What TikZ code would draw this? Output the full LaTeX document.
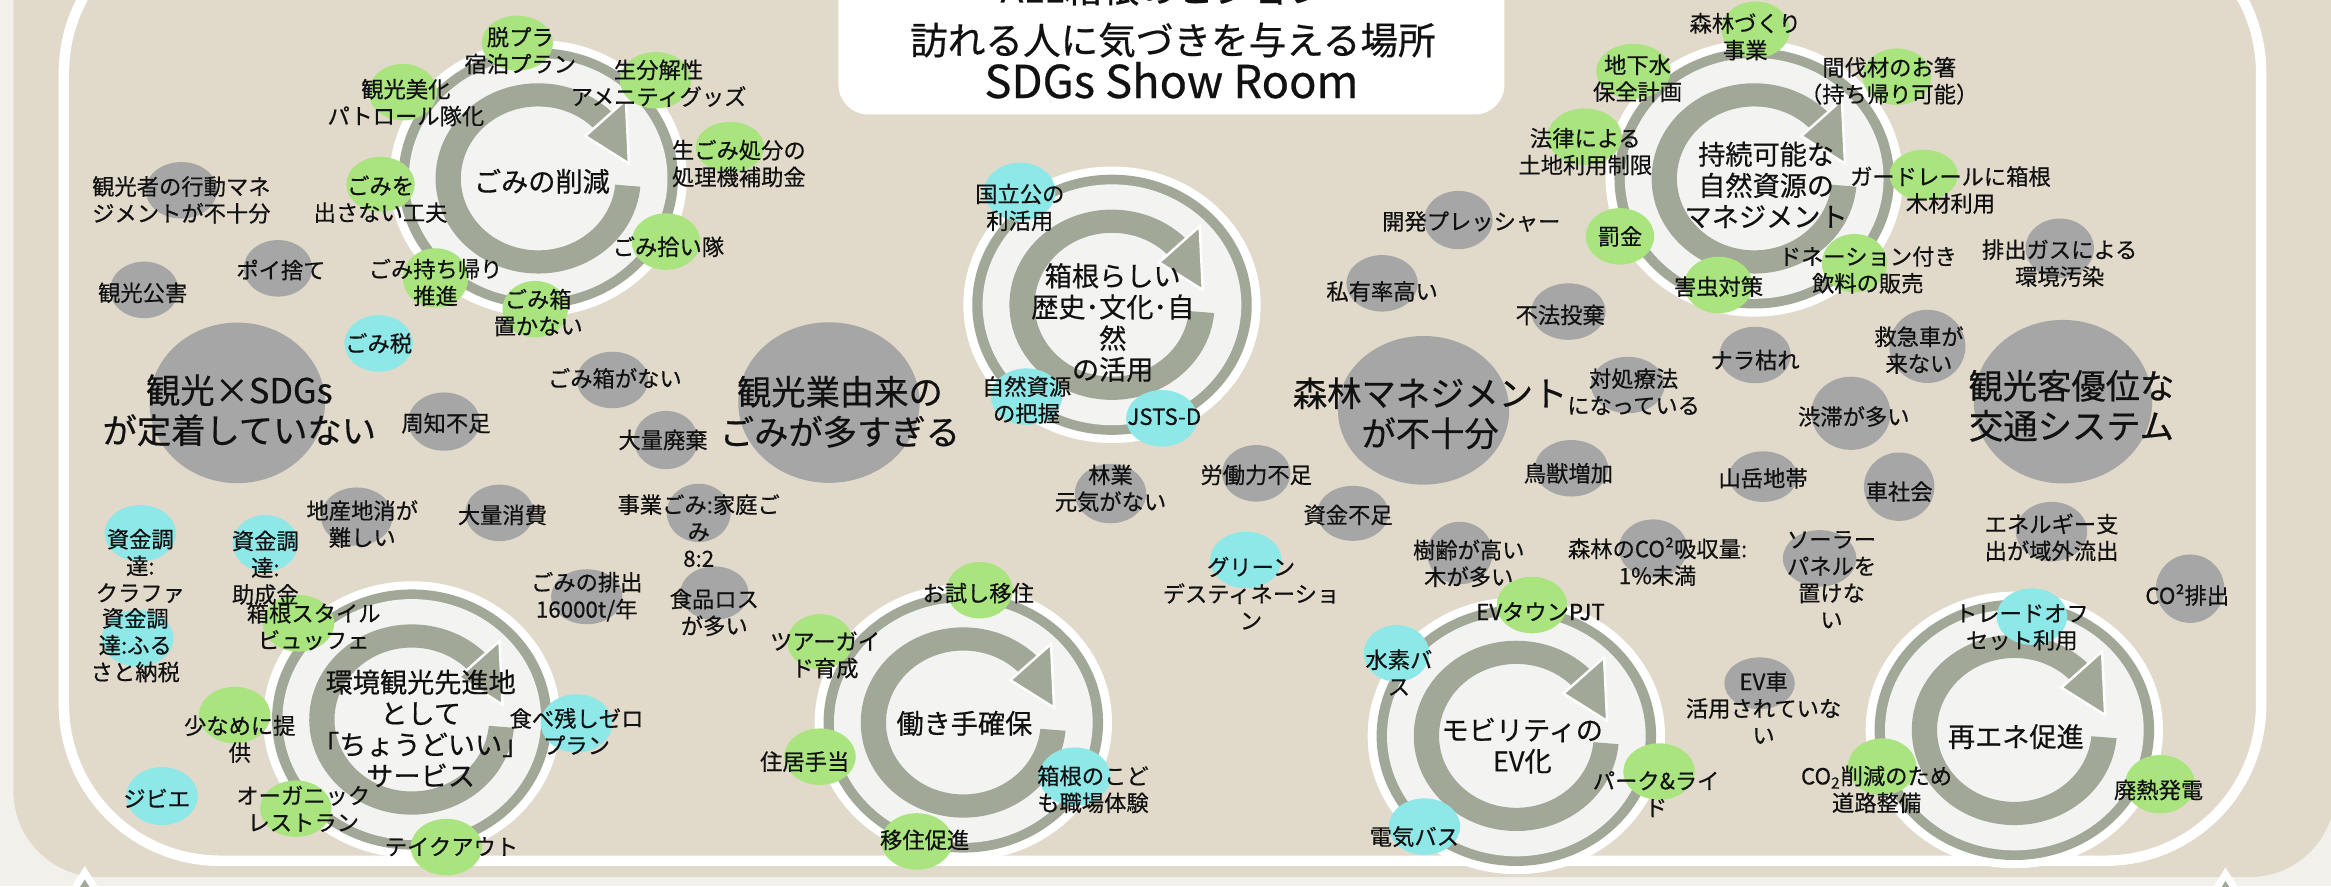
\documentclass[tikz,border=0pt]{standalone}
\usepackage{fontspec}
\setmainfont{Noto Sans CJK JP}[FakeBold=0.5]
\usepackage{tikz}

\definecolor{panel}{HTML}{E1DACA}
\definecolor{outside}{HTML}{F2F0EB}
\definecolor{ring}{HTML}{A2A897}
\definecolor{pale}{HTML}{F3F3F2}
\definecolor{gry}{HTML}{A6A6A6}
\definecolor{grn}{HTML}{A9E47F}
\definecolor{cyn}{HTML}{8EE8E8}
\definecolor{ink}{HTML}{111111}

\tikzset{
	lbl/.style={font=\fontsize{12.8pt}{15.4pt}\selectfont, align=center, inner sep=0pt, text=ink},
	biglbl/.style={lbl, font=\fontsize{19.7pt}{23pt}\selectfont},
	hublbl/.style={lbl, font=\fontsize{15.6pt}{17.9pt}\selectfont},
	titlelbl/.style={lbl, font=\fontsize{21.6pt}{23.9pt}\selectfont}
}

% one coloured spot: colour, centre, x radius, y radius
\newcommand\spot[4]{\fill[#1] (#2) ellipse [x radius=#3, y radius=#4];}

% one cycle with its circular arrow
\newcommand\hcycle[1]{%
	\begin{scope}[shift={(#1)}]
		\fill[white] (0,0) ellipse [x radius=100, y radius=93];
		\fill[ring] (0,0) ellipse [x radius=94, y radius=87.5];
		\fill[pale] (0,0) ellipse [x radius=87, y radius=81];
		\fill[ring] (5:69 and 64) arc [start angle=5, end angle=318, x radius=69, y radius=64]
			-- (318:52 and 48.4) arc [start angle=318, end angle=5, x radius=52, y radius=48.4] -- cycle;
		\filldraw[ring, draw=white, line width=1.4pt] (316:44 and 41) -- (316:82 and 76) -- (350:62 and 57.5) -- cycle;
	\end{scope}}

\begin{document}
\begin{tikzpicture}[x=0.03cm, y=-0.03cm]
	\useasboundingbox (0,0) rectangle (1568,596);
	\clip (0,0) rectangle (1568,596);
	
	% background
	\fill[outside] (0,0) rectangle (1568,596);
	\fill[panel, rounded corners=1.74cm] (9,-120) rectangle (1571,590);
	\draw[white, line width=6pt, rounded corners=3.15cm] (43,-56) rectangle (1521,579);
	\filldraw[fill=ring, draw=white, line width=4pt] (45,606) -- (57,587) -- (69,606) -- cycle;
	\filldraw[fill=ring, draw=white, line width=4pt] (1485,607) -- (1497,588) -- (1509,607) -- cycle;
	
	% title
	\fill[white, rounded corners=0.6cm] (564,-30) rectangle (1012,77);
	\node[titlelbl] (vision) at (783,-8) {ALL箱根のビジョン};
	\node[titlelbl] (title) at (789,27) {訪れる人に気づきを与える場所};
	\node[titlelbl, font=\fontsize{26pt}{28pt}\selectfont] (showroom) at (788,54) {SDGs Show Room};
	
	% cycles
	\hcycle{362,120}
	\hcycle{748,205}
	\hcycle{1180,120}
	\hcycle{277,484}
	\hcycle{648,486}
	\hcycle{1020,495}
	\hcycle{1355,491}
	
	% spots
	\spot{grn}{348,29}{24}{18.5}
	\spot{grn}{441,54}{24}{19}
	\spot{grn}{271,62}{23}{19}
	\spot{grn}{491,99}{23}{17}
	\spot{grn}{256,124}{23}{18.5}
	\spot{gry}{122,128}{24}{19}
	\spot{grn}{448,162.5}{23}{19}
	\spot{gry}{187,180.5}{23}{19}
	\spot{gry}{97,195}{23}{19}
	\spot{grn}{293,187}{22}{20}
	\spot{grn}{360,208}{22}{19}
	\spot{cyn}{254.7,231}{23}{19}
	\spot{gry}{159.6,271}{59}{54}
	\spot{gry}{412,255.6}{24}{19}
	\spot{gry}{298.6,283.6}{24}{19.6}
	\spot{gry}{448,296}{21.5}{19.6}
	\spot{gry}{557.6,270.8}{61}{54}
	\spot{gry}{240,347.5}{24}{19.6}
	\spot{gry}{336,345}{23}{19}
	\spot{gry}{470,345}{21.5}{19.6}
	\spot{cyn}{94.4,358.7}{24}{19}
	\spot{cyn}{92.7,429.4}{24}{19}
	\spot{cyn}{178.5,365.5}{22}{19}
	\spot{grn}{200.8,419.3}{24}{19}
	\spot{gry}{394.7,401.4}{24}{18.5}
	\spot{gry}{480.5,399}{23}{18}
	\spot{grn}{157.9,481}{24}{19}
	\spot{cyn}{387.8,486.6}{24}{19.6}
	\spot{cyn}{109,535.5}{24}{19.5}
	\spot{grn}{199,544}{24}{19}
	\spot{grn}{300.3,569.8}{24}{19}
	
	\spot{cyn}{686,129}{24}{19.6}
	\spot{cyn}{690.5,266.8}{24}{19}
	\spot{cyn}{781.5,281.4}{24}{19}
	\spot{gry}{747,332}{24}{20}
	\spot{gry}{845,318.4}{23}{19}
	\spot{gry}{910,345.3}{24}{18.5}
	\spot{cyn}{838,376.7}{24}{19}
	\spot{grn}{659,397}{22.3}{19}
	\spot{grn}{551.6,431.6}{22}{18.5}
	\spot{grn}{551.6,509}{24}{19}
	\spot{cyn}{723,522.4}{24}{19.6}
	\spot{grn}{616.8,566}{24}{19}
	
	\spot{gry}{981,148}{23}{19.6}
	\spot{gry}{929.7,190.6}{24}{19}
	\spot{grn}{1181,20}{23}{19}
	\spot{grn}{1098.7,48}{25}{18.5}
	\spot{grn}{1276,51.6}{23}{19}
	\spot{grn}{1066,92}{25}{19}
	\spot{grn}{1294,117.7}{23}{17}
	\spot{grn}{1089.7,159}{23}{19}
	\spot{grn}{1247.5,177}{22}{19.6}
	\spot{grn}{1156,191.7}{23}{19}
	\spot{gry}{1385.5,167}{23}{20}
	\spot{gry}{1055,209.6}{25}{19}
	\spot{gry}{1180.6,238.8}{24}{19}
	\spot{gry}{1296.5,233}{25.6}{24.6}
	\spot{gry}{1095,259}{24.7}{19}
	\spot{gry}{1387.7,270.2}{60}{55}
	\spot{gry}{1245,278}{26.6}{24.6}
	\spot{gry}{957.6,276}{57.6}{50}
	\spot{gry}{1057,315}{24.7}{19}
	\spot{gry}{1186,320.6}{23}{17}
	\spot{gry}{1277.5,327.4}{23.7}{23}
	\spot{gry}{982,372}{22}{21}
	\spot{gry}{1112,369}{23}{19.6}
	\spot{gry}{1224,375.6}{24.7}{19}
	\spot{gry}{1380,357.6}{24}{20}
	\spot{gry}{1473.2,396}{23}{23}
	\spot{grn}{1030.5,407}{23.7}{19}
	\spot{cyn}{1366.8,414.8}{23.7}{19}
	\spot{gry}{1183.6,459.6}{23.7}{17.4}
	\spot{grn}{1116,519}{24}{19}
	\spot{grn}{1266,515.7}{23}{19}
	\spot{grn}{1453,527.5}{23.5}{19.6}
	\spot{cyn}{939.4,439.5}{22}{19}
	\spot{cyn}{958.2,556}{24}{19}
	
	% cycle titles
	\node[hublbl] (gomi) at (364.5,122) {ごみの削減};
	\node[hublbl] (rekishi) at (748.5,217) {箱根らしい\\歴史･文化･自\\然\\の活用};
	\node[hublbl] (shigen) at (1188,124.4) {持続可能な\\自然資源の\\マネジメント};
	\node[hublbl] (kankyo) at (283,490) {環境観光先進地\\として\\「ちょうどいい」\\サービス};
	\node[hublbl] (hatarakite) at (648.7,486.6) {働き手確保};
	\node[hublbl] (mobility) at (1024,501.6) {モビリティの\\EV化};
	\node[hublbl] (saiene) at (1356,495.5) {再エネ促進};
	
	% big issues
	\node[biglbl] (sdgs) at (161,276) {観光×SDGs\\が定着していない};
	\node[biglbl] (gomiooi) at (565,277) {観光業由来の\\ごみが多すぎる};
	\node[biglbl] (shinrin) at (962,278) {森林マネジメント\\が不十分};
	\node[biglbl] (kotsu) at (1393.4,273) {観光客優位な\\交通システム};
	
	% labels, left
	\node[lbl] (datsupura) at (350,34) {脱プラ\\宿泊プラン};
	\node[lbl] (seibunkai) at (443,56) {生分解性\\アメニティグッズ};
	\node[lbl] (bika) at (273,69) {観光美化\\パトロール隊化};
	\node[lbl] (namagomi) at (497,110) {生ごみ処分の\\処理機補助金};
	\node[lbl] (dasanai) at (256,134) {ごみを\\出さない工夫};
	\node[lbl] (kodo) at (122,134.5) {観光者の行動マネ\\ジメントが不十分};
	\node[lbl] (hiroi) at (449.6,166) {ごみ拾い隊};
	\node[lbl] (poisute) at (189,181.6) {ポイ捨て};
	\node[lbl] (kogai) at (96,197) {観光公害};
	\node[lbl] (mochikaeri) at (293,190) {ごみ持ち帰り\\推進};
	\node[lbl] (okanai) at (362,210.3) {ごみ箱\\置かない};
	\node[lbl] (gomizei) at (254.7,231) {ごみ税};
	\node[lbl] (gomibako) at (413.6,254.5) {ごみ箱がない};
	\node[lbl] (shuchi) at (300,284.7) {周知不足};
	\node[lbl] (haiki) at (446,296) {大量廃棄};
	\node[lbl] (chisan) at (243.7,352.5) {地産地消が\\難しい};
	\node[lbl] (shohi) at (338,346.4) {大量消費};
	\node[lbl] (jigyo) at (470,357) {事業ごみ:家庭ご\\み\\8:2};
	\node[lbl] (kurafa) at (94.4,380.7) {資金調\\達:\\クラファ};
	\node[lbl] (furusato) at (91,434) {資金調\\達:ふる\\さと納税};
	\node[lbl] (josei) at (178.5,381.9) {資金調\\達:\\助成金};
	\node[lbl] (buffet) at (211,421.5) {箱根スタイル\\ビュッフェ};
	\node[lbl] (haishutsu) at (394.7,401.4) {ごみの排出\\16000t/年};
	\node[lbl] (shokuhin) at (480.5,412) {食品ロス\\が多い};
	\node[lbl] (sukuname) at (161.3,497.2) {少なめに提\\供};
	\node[lbl] (tabenokoshi) at (387.8,492) {食べ残しゼロ\\プラン};
	\node[lbl] (jibie) at (105.4,537) {ジビエ};
	\node[lbl] (organic) at (204,544) {オーガニック\\レストラン};
	\node[lbl] (takeout) at (303.7,569.5) {テイクアウト};
	
	% labels, middle
	\node[lbl] (kokuritsu) at (686,139.5) {国立公の\\利活用};
	\node[lbl] (haaku) at (690.5,269) {自然資源\\の把握};
	\node[lbl] (jsts) at (783.2,280.3) {JSTS-D};
	\node[lbl] (ringyo) at (747,328.5) {林業\\元気がない};
	\node[lbl] (rodo) at (845,319.5) {労働力不足};
	\node[lbl] (shikin) at (906.8,346.4) {資金不足};
	\node[lbl] (green) at (841.5,399) {グリーン\\デスティネーショ\\ン};
	\node[lbl] (otameshi) at (658,399) {お試し移住};
	\node[lbl] (guide) at (555,440.6) {ツアーガイ\\ド育成};
	\node[lbl] (jukyo) at (541.3,512.3) {住居手当};
	\node[lbl] (kodomo) at (735.2,531) {箱根のこど\\も職場体験};
	\node[lbl] (iju) at (622,565) {移住促進};
	
	% labels, right
	\node[lbl] (kaihatsu) at (989.7,149) {開発プレッシャー};
	\node[lbl] (shiyu) at (929.7,196) {私有率高い};
	\node[lbl] (morizukuri) at (1174,24.7) {森林づくり\\事業};
	\node[lbl] (chikasui) at (1101.5,52.7) {地下水\\保全計画};
	\node[lbl] (ohashi) at (1270.8,54.4) {間伐材のお箸\\（持ち帰り可能）};
	\node[lbl] (horitsu) at (1066.4,102) {法律による\\土地利用制限};
	\node[lbl] (guardrail) at (1312,127.8) {ガードレールに箱根\\木材利用};
	\node[lbl] (bakkin) at (1089.7,159) {罰金};
	\node[lbl] (donation) at (1256.4,181.6) {ドネーション付き\\飲料の販売};
	\node[lbl] (gaichu) at (1156,192.8) {害虫対策};
	\node[lbl] (haigas) at (1385.5,177) {排出ガスによる\\環境汚染};
	\node[lbl] (fuho) at (1049.5,211.9) {不法投棄};
	\node[lbl] (nara) at (1180.6,242.2) {ナラ枯れ};
	\node[lbl] (kyukyu) at (1290.8,235.5) {救急車が\\来ない};
	\node[lbl] (taisho) at (1098.9,263.5) {対処療法\\になっている};
	\node[lbl] (jutai) at (1247,280.3) {渋滞が多い};
	\node[lbl] (chouju) at (1055,318.4) {鳥獣増加};
	\node[lbl] (sangaku) at (1186,321.7) {山岳地帯};
	\node[lbl] (kurumasha) at (1277.5,330.7) {車社会};
	\node[lbl] (jurei) at (988,379) {樹齢が高い\\木が多い};
	\node[lbl] (kyushu) at (1115,377.8) {森林のCO²吸収量:\\1\%未満};
	\node[lbl] (solar) at (1232,390) {ソーラー\\パネルを\\置けな\\い};
	\node[lbl] (energy) at (1380,361.5) {エネルギー支\\出が域外流出};
	\node[lbl] (co2) at (1471.3,400.2) {CO²排出};
	\node[lbl] (evtown) at (1036.2,411.4) {EVタウンPJT};
	\node[lbl] (offset) at (1360,422) {トレードオフ\\セット利用};
	\node[lbl] (evsha) at (1186.3,476) {EV車\\活用されていな\\い};
	\node[lbl] (parkride) at (1114,534.2) {パーク\&ライ\\ド};
	\node[lbl] (doro) at (1262.3,531) {CO\textsubscript{2}削減のため\\道路整備};
	\node[lbl] (hainetsu) at (1452,531.4) {廃熱発電};
	\node[lbl] (suiso) at (941,452.4) {水素バ\\ス};
	\node[lbl] (denki) at (951.4,562.8) {電気バス};
\end{tikzpicture}
\end{document}
